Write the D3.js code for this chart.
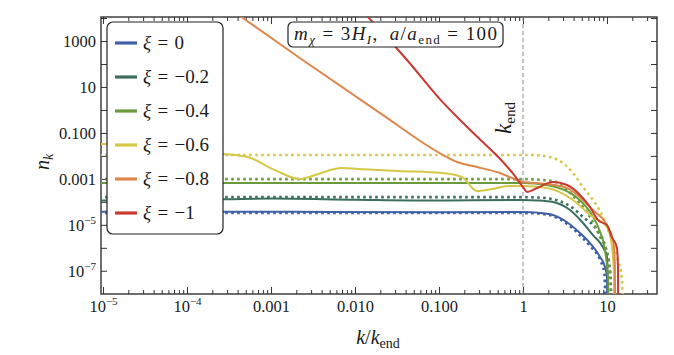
<!DOCTYPE html>
<html>
<head>
<meta charset="utf-8">
<script src="https://cdn.jsdelivr.net/npm/d3@7"></script>
<style>
  body { margin: 0; background: #fff; }
  svg { display: block; }
</style>
</head>
<body>
<svg id="chart"></svg>
<script>
const width = 674
const height = 355
const margin = { top: 17, right: 17, bottom: 61, left: 101 }
const serif = "'Liberation Serif', 'DejaVu Serif', 'Times New Roman', serif"

// legend labels and colours, one per xi
const xiLabels = ["0", "\u22120.2", "\u22120.4", "\u22120.6", "\u22120.8", "\u22121"]
const colors = ["#3f5fa8", "#3c6e5e", "#6a9a3d", "#d6c846", "#de874c", "#c8392f"]

// solid curves (numerical), [k/k_end, n_k]
const solid0 = [[9e-6,3.7e-5],[1e-3,3.7e-5],[0.1,3.5e-5],[1,3.6e-5],[1.5,3.4e-5],[2.28,2.7e-5],[3.34,1.3e-5],[4.77,4.4e-6],[6.28,1.6e-6],[8.26,4e-7],[9.46,1.45e-7],[10,5.3e-8],[10.1,1e-9]]
const solid1 = [[9e-6,1.15e-4],[1e-4,1.2e-4],[1e-3,1.4e-4],[0.01,1.25e-4],[0.1,1.15e-4],[1,1.2e-4],[1.5,1.15e-4],[2.28,9.8e-5],[3.63,4.4e-5],[5.18,1.2e-5],[6.8,3.6e-6],[8.94,1.07e-6],[10,4e-7],[10.3,1e-9]]
const solid2 = [[9e-6,6.6e-4],[1,6.6e-4],[1.93,5.4e-4],[4.4,1.5e-4],[6.28,3.6e-5],[8.26,5e-6],[9.46,8e-7],[10.3,4e-8],[10.4,1e-9]]
const solid3 = [[9e-6,3.3e-2],[4.7e-5,2.8e-2],[2.15e-4,1.33e-2],[5.3e-4,8.9e-3],[1.12e-3,2.4e-3],[2.2e-3,9.8e-4],[3.34e-3,1.47e-3],[7e-3,2.95e-3],[1.09e-2,2.7e-3],[3.25e-2,2.2e-3],[0.109,1.8e-3],[0.188,1.2e-3],[0.283,2.95e-4],[0.428,3.6e-4],[0.663,4.9e-4],[1,4.9e-4],[1.93,4e-4],[3.94,1.2e-4],[6.28,2.7e-5],[10,7.9e-6],[11.4,1.3e-6],[12.1,6.5e-8],[12.2,1e-9]]
const solid4 = [[3.25e-4,2.5e4],[2.2e-3,182],[1.99e-2,0.73],[0.112,1.09e-2],[0.164,5.4e-3],[0.283,3.3e-3],[0.532,1.8e-3],[0.85,8.9e-4],[1,7.3e-4],[1.93,6e-4],[3.34,4e-4],[4.77,1.6e-4],[6.8,4.4e-5],[10,9.7e-6],[11.8,2.2e-6],[12.4,1.8e-7],[12.5,1e-9]]
const solid5 = [[0.01,4.6e4],[0.0143,1.1e4],[0.0416,149],[0.103,2.9],[0.283,0.07],[0.532,7.5e-3],[0.76,1.7e-3],[1,4.4e-4],[1.116,2.7e-4],[1.47,4e-4],[2.28,7.3e-4],[3.34,5.4e-4],[4.77,2e-4],[6.28,5.9e-5],[7.8,1.6e-5],[10,9.7e-6],[11.4,2.9e-6],[13.1,1.07e-6],[13.5,1.4e-7],[13.6,1e-9]]

// dotted curves (analytic), only for the first four xi
const dotted0 = [[9e-6,3.25e-5],[1,3.25e-5],[1.5,3.1e-5],[2.28,2.4e-5],[3.34,1.1e-5],[4.77,3.5e-6],[6.28,1.2e-6],[8.26,3e-7],[9.3,8e-8],[9.7,1e-9]]
const dotted1 = [[9e-6,1.6e-4],[1,1.6e-4],[1.5,1.55e-4],[2.28,1.3e-4],[3.63,6.5e-5],[5.18,2.2e-5],[7.6,5.9e-6],[9.5,1.2e-6],[10.85,1.1e-7],[11.4,1e-9]]
const dotted2 = [[9e-6,9.8e-4],[1,9.8e-4],[2.28,8e-4],[3.34,3.2e-4],[4.4,1.2e-4],[6.28,2.2e-5],[8.26,3e-6],[10,5.9e-7],[10.85,8e-8],[11.4,1e-9]]
const dotted3 = [[9e-6,1.09e-2],[1.3,1.09e-2],[2.28,8.1e-3],[2.99,4.9e-3],[3.94,1.8e-3],[5.18,4.4e-4],[6.8,1.2e-4],[8.94,2.2e-5],[10.3,5.9e-6],[11.8,1.6e-6],[13.5,3e-7],[15.1,4e-8],[15.5,1e-9]]

const solids = [solid0, solid1, solid2, solid3, solid4, solid5]
const dotteds = [dotted0, dotted1, dotted2, dotted3]

// ticks
const xTickVals = [1e-5, 1e-4, 1e-3, 1e-2, 0.1, 1, 10]
const xTickLabels = ["10^\u22125", "10^\u22124", "0.001", "0.010", "0.100", "1", "10"]
const yTickVals = [1e3, 10, 0.1, 1e-3, 1e-5, 1e-7]
const yTickLabels = ["1000", "10", "0.100", "0.001", "10^\u22125", "10^\u22127"]
const yMinorVals = [1e4, 100, 1, 0.01, 1e-4, 1e-6]

const xMinorVals = []
for (let e = -5; e <= 1; e++) {
    for (let m = 2; m <= 9; m++) {
        const v = m * Math.pow(10, e)
        if (v < 39) xMinorVals.push(v)
    }
}

const x = d3.scaleLog()
    .domain([Math.pow(10, -5.024), Math.pow(10, 1.595)])
    .range([margin.left, width - margin.right])
const y = d3.scaleLog()
    .domain([Math.pow(10, -8.01), Math.pow(10, 4.045)])
    .range([height - margin.bottom, margin.top])

const svg = d3.select("#chart").attr("width", width).attr("height", height)

svg.append("defs").append("clipPath").attr("id", "plot-clip")
    .append("rect")
    .attr("x", margin.left).attr("y", margin.top)
    .attr("width", width - margin.left - margin.right)
    .attr("height", height - margin.top - margin.bottom)

function superLabel(sel, s) {
    const parts = s.split("^")
    sel.text(parts[0])
    if (parts[1]) sel.append("tspan").attr("dy", -7).style("font-size", "11px").text(parts[1])
}

const x0 = margin.left, x1 = width - margin.right
const yb = height - margin.bottom, yt = margin.top

// axes: inward ticks on all four sides
const bottomAxis = svg.append("g").attr("transform", `translate(0,${yb})`)
    .call(d3.axisBottom(x).tickValues(xTickVals).tickSizeInner(-7).tickSizeOuter(0).tickPadding(6).tickFormat((d, i) => xTickLabels[i]))
bottomAxis.selectAll(".tick text").each(function (d, i) { superLabel(d3.select(this), xTickLabels[i]) })
svg.append("g").attr("transform", `translate(0,${yb})`)
    .call(d3.axisBottom(x).tickValues(xMinorVals).tickSizeInner(-4).tickSizeOuter(0).tickFormat(""))
svg.append("g").attr("transform", `translate(0,${yt})`)
    .call(d3.axisTop(x).tickValues(xTickVals).tickSizeInner(-7).tickSizeOuter(0).tickFormat(""))
svg.append("g").attr("transform", `translate(0,${yt})`)
    .call(d3.axisTop(x).tickValues(xMinorVals).tickSizeInner(-4).tickSizeOuter(0).tickFormat(""))

const leftAxis = svg.append("g").attr("transform", `translate(${x0},0)`)
    .call(d3.axisLeft(y).tickValues(yTickVals).tickSizeInner(-6).tickSizeOuter(0).tickPadding(5).tickFormat((d, i) => yTickLabels[i]))
leftAxis.selectAll(".tick text").each(function (d, i) { superLabel(d3.select(this), yTickLabels[i]) })
svg.append("g").attr("transform", `translate(${x0},0)`)
    .call(d3.axisLeft(y).tickValues(yMinorVals).tickSizeInner(-6).tickSizeOuter(0).tickFormat(""))
svg.append("g").attr("transform", `translate(${x1},0)`)
    .call(d3.axisRight(y).tickValues(yTickVals.concat(yMinorVals)).tickSizeInner(-6).tickSizeOuter(0).tickFormat(""))

svg.selectAll(".domain").remove()
svg.selectAll(".tick line").attr("stroke", "#333").attr("stroke-width", 1)
svg.selectAll(".tick text").style("font-family", serif).style("font-size", "16.5px").attr("fill", "#1a1a1a")

// frame
svg.append("rect")
    .attr("x", x0).attr("y", yt)
    .attr("width", x1 - x0).attr("height", yb - yt)
    .attr("fill", "none").attr("stroke", "#333").attr("stroke-width", 1.4)

// k_end marker
svg.append("line")
    .attr("x1", x(1)).attr("x2", x(1))
    .attr("y1", yt).attr("y2", yb)
    .attr("stroke", "#8a8a8a").attr("stroke-width", 1).attr("stroke-dasharray", "4,3")

const line = d3.line()
    .x(d => x(d[0]))
    .y(d => y(d[1]))
    .curve(d3.curveMonotoneX)

const plot = svg.append("g").attr("clip-path", "url(#plot-clip)")

dotteds.forEach((d, i) => {
    plot.append("path")
        .datum(d)
        .attr("fill", "none")
        .attr("stroke", colors[i])
        .attr("stroke-width", 2.6)
        .attr("stroke-dasharray", "2.6,3.4")
        .attr("d", line)
})

solids.forEach((d, i) => {
    plot.append("path")
        .datum(d)
        .attr("fill", "none")
        .attr("stroke", colors[i])
        .attr("stroke-width", 2)
        .attr("d", line)
})

function txt(parent) {
    return parent.append("text").style("font-family", serif).attr("fill", "#1a1a1a")
}

// legend
const legend = svg.append("g")
legend.append("rect")
    .attr("x", 107).attr("y", 22).attr("width", 116).attr("height", 212).attr("rx", 6)
    .attr("fill", "#fff").attr("stroke", "#222").attr("stroke-width", 1.2)
xiLabels.forEach((lab, i) => {
    const ly = 43 + i * 34
    legend.append("line")
        .attr("x1", 115).attr("x2", 137).attr("y1", ly).attr("y2", ly)
        .attr("stroke", colors[i]).attr("stroke-width", 3.2)
    const t = txt(legend).attr("x", 143).attr("y", ly + 6).style("font-size", "19px")
    t.append("tspan").style("font-style", "italic").text("\u03be")
    t.append("tspan").text("\u2004=\u2004" + lab)
})

// parameter box
svg.append("rect")
    .attr("x", 288).attr("y", 22).attr("width", 215).attr("height", 25).attr("rx", 5)
    .attr("fill", "#fff").attr("stroke", "#222").attr("stroke-width", 1.2)
const ann = txt(svg).attr("x", 294).attr("y", 40).style("font-size", "19px")
    .attr("textLength", 203).attr("lengthAdjust", "spacing")
ann.append("tspan").style("font-style", "italic").text("m")
ann.append("tspan").style("font-style", "italic").style("font-size", "13px").attr("dy", 4).text("\u03c7")
ann.append("tspan").attr("dy", -4).text(" = 3")
ann.append("tspan").style("font-style", "italic").text("H")
ann.append("tspan").style("font-style", "italic").style("font-size", "13px").attr("dy", 4).text("I")
ann.append("tspan").attr("dy", -4).text(",\u2002")
ann.append("tspan").style("font-style", "italic").text("a")
ann.append("tspan").text("/")
ann.append("tspan").style("font-style", "italic").text("a")
ann.append("tspan").style("font-size", "13px").attr("dy", 4).text("end")
ann.append("tspan").attr("dy", -4).text(" = 100")

// k_end label
const kl = txt(svg).attr("transform", "translate(511,134) rotate(-90)").style("font-size", "23px")
kl.append("tspan").style("font-style", "italic").text("k")
kl.append("tspan").style("font-size", "15px").attr("dy", 4).text("end")

// axis titles
const yl = txt(svg).attr("transform", "translate(49,170) rotate(-90)").style("font-size", "20px")
yl.append("tspan").style("font-style", "italic").text("n")
yl.append("tspan").style("font-style", "italic").style("font-size", "14px").attr("dy", 4).text("k")

const xl = txt(svg).attr("x", 378).attr("y", 344).attr("text-anchor", "middle").style("font-size", "20px")
xl.append("tspan").style("font-style", "italic").text("k")
xl.append("tspan").text("/")
xl.append("tspan").style("font-style", "italic").text("k")
xl.append("tspan").style("font-size", "14px").attr("dy", 4).text("end")
</script>
</body>
</html>
